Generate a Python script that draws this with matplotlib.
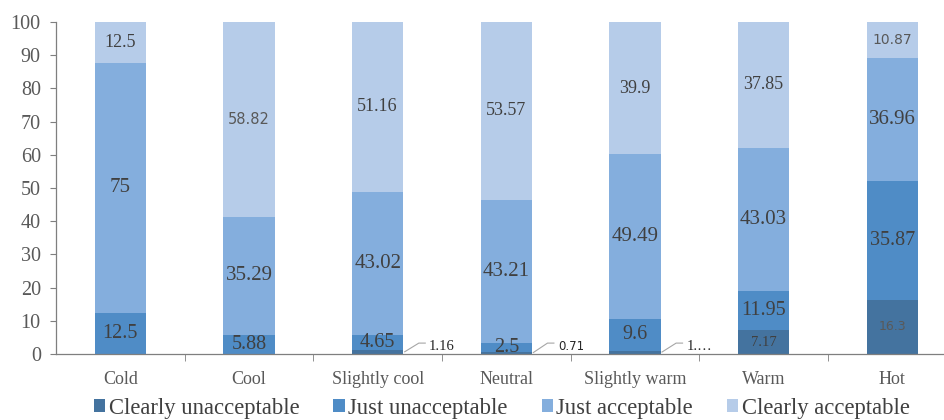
"""Stacked bars: acceptability votes by thermal sensation."""

import matplotlib.pyplot as plt
import numpy as np
from matplotlib.patches import Patch

CATEGORIES = ["Cold", "Cool", "Slightly cool", "Neutral", "Slightly warm", "Warm", "Hot"]
SERIES = ["Clearly unacceptable", "Just unacceptable", "Just acceptable", "Clearly acceptable"]

CLEARLY_UNACCEPTABLE = [0, 0, 1.16, 0.71, 1.01, 7.17, 16.3]
JUST_UNACCEPTABLE = [12.5, 5.88, 4.65, 2.5, 9.6, 11.95, 35.87]
JUST_ACCEPTABLE = [75, 35.29, 43.02, 43.21, 49.49, 43.03, 36.96]
CLEARLY_ACCEPTABLE = [12.5, 58.82, 51.16, 53.57, 39.9, 37.85, 10.87]

# text shown for the tiny segments that get a leader label
SMALL_LABELS = {2: "1.16", 3: "0.71", 4: "1.…"}

COLORS = ["#44739f", "#4f8cc6", "#84aedd", "#b6cce9"]
LABEL_SIZES = [10.5, 14.5, 15, 13]
# (series, category) -> size of labels drawn in a sans face in the original
SANS = {(3, 1): 10.5, (3, 6): 10, (0, 6): 9}

SERIF = ["Liberation Serif", "DejaVu Serif"]
plt.rcParams["font.family"] = SERIF


def main() -> None:
    fig = plt.figure(figsize=(9.45, 4.2), dpi=100)
    ax = fig.add_axes([0.0593, 0.157, 0.9407, 0.791])

    x = np.arange(len(CATEGORIES))
    width = 0.4
    data = [CLEARLY_UNACCEPTABLE, JUST_UNACCEPTABLE, JUST_ACCEPTABLE, CLEARLY_ACCEPTABLE]
    bottom = np.zeros(len(CATEGORIES))

    for i, vals in enumerate(data):
        vals = np.array(vals, dtype=float)
        ax.bar(x, vals, width, bottom=bottom, color=COLORS[i], edgecolor="none", zorder=2)
        for j, v in enumerate(vals):
            if v == 0:
                continue
            if i == 0 and j in SMALL_LABELS:
                # leader line out to the right of the bar
                xe = x[j] + width / 2
                ax.plot([xe + 0.01, xe + 0.12, xe + 0.17], [v / 2 + 0.1, 3.3, 3.3],
                        color="#a6a6a6", lw=0.8, zorder=3, clip_on=False)
                fam = "DejaVu Sans" if j == 3 else SERIF
                size = 8.5 if j == 3 else 10.5
                ax.text(xe + 0.2, 2.2, SMALL_LABELS[j], fontsize=size, color="#262626",
                        ha="left", va="center", family=fam)
                continue
            sans = (i, j) in SANS
            ax.text(x[j], bottom[j] + v / 2, f"{v:g}", ha="center", va="center",
                    fontsize=SANS.get((i, j), LABEL_SIZES[i]),
                    family=("DejaVu Sans" if sans else SERIF),
                    color=("#595959" if sans else "#404040"), zorder=4)
        bottom += vals

    ax.set_xlim(-0.5, 6.41)
    ax.set_ylim(0, 100)
    ax.set_yticks(range(0, 101, 10))
    ax.set_xticks(x)
    ax.set_xticklabels(CATEGORIES)
    ax.set_xticks(np.arange(0.5, len(CATEGORIES) - 1, 1), minor=True)
    ax.tick_params(axis="x", which="major", length=0, pad=12, labelsize=13, labelcolor="#595959")
    ax.tick_params(axis="x", which="minor", length=5, color="#7f7f7f", direction="out")
    ax.tick_params(axis="y", length=4, pad=7, color="#7f7f7f", labelsize=14.5, labelcolor="#595959")

    for side in ("top", "right"):
        ax.spines[side].set_visible(False)
    for side in ("left", "bottom"):
        ax.spines[side].set_color("#7f7f7f")
        ax.spines[side].set_linewidth(0.9)

    handles = [Patch(facecolor=c, edgecolor="none") for c in COLORS]
    fig.legend(handles, SERIES, loc="center", bbox_to_anchor=(0.531, 0.028), ncol=4,
               frameon=False, fontsize=16.3, handlelength=0.5, handleheight=0.5,
               handletextpad=0.15, columnspacing=1.5, labelcolor="#404040")

    fig.savefig("out.png", dpi=100)
    plt.close(fig)


if __name__ == "__main__":
    main()
